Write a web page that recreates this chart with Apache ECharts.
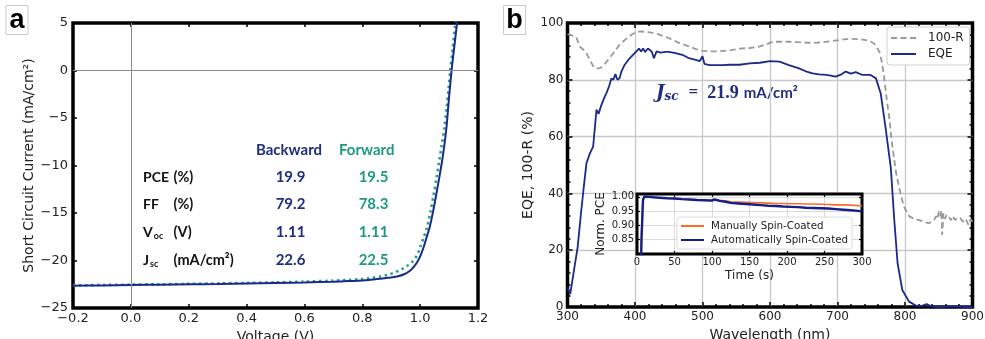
<!DOCTYPE html>
<html><head><meta charset="utf-8">
<script src="https://cdn.jsdelivr.net/npm/echarts@6/dist/echarts.min.js"></script>
<style>html,body{margin:0;padding:0;background:#fff}#c{width:985px;height:339px}</style>
</head><body><div id="c"></div>
<script>
// ---------- data ----------
const jvBackV = [-0.2,-0.1,0.0,0.1,0.2,0.3,0.4,0.5,0.6,0.7,0.75,0.8,0.83,0.86,0.89,0.92,0.945,0.966,0.98,0.993,1.003,1.012,1.022,1.033,1.045,1.056,1.066,1.076,1.084,1.091,1.100,1.108,1.113,1.120,1.128];
const jvBackJ = [-22.65,-22.62,-22.58,-22.55,-22.51,-22.47,-22.42,-22.37,-22.31,-22.23,-22.17,-22.10,-22.02,-21.92,-21.82,-21.68,-21.45,-21.05,-20.6,-20.0,-19.35,-18.6,-17.6,-16.5,-14.8,-13.0,-11.3,-9.5,-7.8,-6.0,-2.8,-0.2,1.2,3.0,5.1];
const jvFwdV = [-0.2,-0.1,0.0,0.1,0.2,0.3,0.4,0.5,0.6,0.7,0.75,0.8,0.83,0.86,0.885,0.91,0.937,0.958,0.977,0.99,1.0,1.012,1.024,1.036,1.047,1.057,1.066,1.076,1.084,1.092,1.098,1.104,1.112,1.120,1.125];
const jvFwdJ = [-22.62,-22.58,-22.54,-22.50,-22.46,-22.41,-22.36,-22.30,-22.22,-22.12,-22.05,-21.95,-21.84,-21.7,-21.52,-21.28,-20.9,-20.5,-20.0,-19.4,-18.6,-17.6,-16.5,-14.8,-13.0,-11.2,-9.5,-7.6,-6.0,-3.8,-2.0,0.0,2.2,4.6,6.0];

const eqeWl = [300,304,309,315,320,324,328,333,338,343,346,350,355,358,362,365,368,371,374,377,380,384,390,396,402,406,409,412,415,419,422,425,428,432,438,445,450,460,470,480,490,496,500,503,510,520,530,540,555,570,585,600,614,628,643,653,663,673,683,690,697,705,712,720,727,737,749,757,764,771,779,784,789,796,806,816,825,832,838,850,870,890,900];
const eqeVal = [7,4.5,12,21,33,42,50.5,54,56.5,69.5,68,71,74,75.5,78,80.5,80,82,80,80.5,83,85,87,88.5,90,91,90,91,89.8,91,90.5,89.8,87.6,90,89.6,89.8,89.8,89.4,88.8,87.6,87,86.6,88.3,85.6,85.2,85.2,85.2,85.3,85.3,85.8,86,86.6,86.4,85.2,84,83,82.3,81.9,81.7,81.5,81.1,81.8,82.9,82.2,82.7,81.7,81.7,80.5,75.2,63.5,49,31,15.4,6,1.9,0.5,0.4,1.0,0.3,0,0.2,0,0];

const reflWl = [300,304,310,313,316,319,324,328,334,339,343,347,350,355,362,370,376,382,390,396,402,410,422,435,451,465,481,490,500,515,530,545,555,570,584,595,604,615,628,640,653,665,678,690,702,712,722,732,742,749,754,758,762,766,769,773,777,780,784,787,791,798,806,814,821,828,835,840,843,846,848,850,852,854,855,857,859,862,865,868,871,874,878,882,886,890,894,897,900];
const reflVal = [96,95.8,95.3,95,93,91.5,90.5,89.4,86.5,84.5,84,84,84.4,85.5,87.6,90,92,93.4,95,96,96.9,97,96.7,96,94.6,93,91.7,90.8,90.2,90,90.1,90.5,91,91.2,91.7,92.5,93.4,93.4,93.4,93.3,93.1,93,93.2,93.6,94,94.3,94.4,94.3,94,93.5,92.8,91.5,89.9,86,81,73,66,59,52,47,42.4,35.5,32,31,30.6,30,29.5,30,30.6,32,31,33.6,32,34,25.4,33,31,32.5,31.8,30.5,32,30.6,31.5,31.2,30,31,28.9,31,30];

const stabTime = [4,6,8,10,15,20,30,40,50,60,70,80,90,96,100,103,106,110,118,125,135,145,155,165,175,185,195,205,215,225,235,245,255,265,275,285,295,300];
const stabAuto = [0.60,0.85,0.99,1.001,1.0,0.999,0.997,0.995,0.994,0.992,0.991,0.989,0.988,0.987,0.987,0.991,0.989,0.986,0.983,0.979,0.977,0.975,0.973,0.971,0.969,0.968,0.966,0.965,0.964,0.962,0.961,0.960,0.959,0.957,0.955,0.953,0.951,0.949];
const stabManual = [0.60,0.88,0.99,1.0,0.999,0.998,0.997,0.995,0.994,0.992,0.991,0.990,0.989,0.988,0.988,0.989,0.989,0.988,0.986,0.983,0.982,0.981,0.980,0.979,0.978,0.977,0.977,0.976,0.976,0.975,0.975,0.974,0.973,0.972,0.972,0.971,0.969,0.968];

const tableRowNames = ['PCE','FF','V','J'];
const tableRowSubs = ['','','oc','sc'];
const tableRowUnits = ['(%)','(%)','(V)','(mA/cm²)'];
const backwardVals = ['19.9','79.2','1.11','22.6'];
const forwardVals = ['19.5','78.3','1.11','22.5'];
const jscText = '21.9';

// ---------- styling ----------
const NAVY = '#1b2a8a', TEAL = '#25a08a', GRAY = '#9a9a9a', ORANGE = '#ff6a26', NAVY2 = '#14208a';
const TXT_NAVY = '#1f2d80', TXT_TEAL = '#1f9a80';
const F = 'DejaVu Sans';
const zip = (a, b) => a.map((v, i) => [v, b[i]]);
const minus = s => String(s).replace('-', '\u2212');

const tick = (len, w) => ({show: true, inside: true, length: len, lineStyle: {color: '#000', width: w || 1.5}});
const lbl = (size, fmt, margin) => ({show: true, fontFamily: F, fontSize: size, color: '#222', formatter: fmt, margin: margin});
const noLine = {show: false, onZero: false};

const chart = echarts.init(document.getElementById('c'), null, {renderer: 'canvas'});

const option = {
  animation: false,
  backgroundColor: '#fff',
  grid: [
    {left: 73, top: 23, width: 405, height: 285, show: true, borderColor: '#000', borderWidth: 3.5, backgroundColor: 'transparent', containLabel: false, outerBoundsMode: 'none'},
    {left: 567.5, top: 23, width: 405, height: 284, show: true, borderColor: '#000', borderWidth: 3.5, backgroundColor: 'transparent', containLabel: false, outerBoundsMode: 'none'},
    {left: 637, top: 194, width: 225, height: 60, show: true, borderColor: '#000', borderWidth: 3, backgroundColor: '#fff', z: 5, containLabel: false, outerBoundsMode: 'none'}
  ],
  xAxis: [
    {gridIndex: 0, type: 'value', min: -0.2, max: 1.2, interval: 0.2, axisLine: noLine, axisTick: tick(4),
      axisLabel: lbl(13, v => minus((Math.round(v * 10) / 10).toFixed(1)), 4), splitLine: {show: false},
      name: 'Voltage (V)', nameLocation: 'middle', nameGap: 19, nameTextStyle: {fontFamily: F, fontSize: 14, color: '#222'}},
    {gridIndex: 0, type: 'value', position: 'top', min: -0.2, max: 1.2, interval: 0.2, axisLine: noLine, axisTick: tick(4), axisLabel: {show: false}, splitLine: {show: false}},
    {gridIndex: 1, type: 'value', min: 300, max: 900, interval: 100, axisLine: noLine, axisTick: tick(5),
      minorTick: {show: true, splitNumber: 5, length: 3, lineStyle: {color: '#000', width: 1.5}},
      axisLabel: lbl(12, v => String(v), 4),
      splitLine: {show: true, showMinLine: false, showMaxLine: false, lineStyle: {color: '#c8c8c8', width: 1.3}},
      name: 'Wavelength (nm)', nameLocation: 'middle', nameGap: 20, nameTextStyle: {fontFamily: F, fontSize: 14, color: '#222'}},
    {gridIndex: 1, type: 'value', position: 'top', min: 300, max: 900, interval: 100, axisLine: noLine, axisTick: tick(5),
      minorTick: {show: true, splitNumber: 5, length: 3, lineStyle: {color: '#000', width: 1.5}}, axisLabel: {show: false}, splitLine: {show: false}},
    {gridIndex: 2, type: 'value', min: 0, max: 300, interval: 50, axisLine: noLine, axisTick: tick(3, 1.2), z: 6,
      axisLabel: lbl(10, v => String(v), 3),
      splitLine: {show: true, showMinLine: false, showMaxLine: false, lineStyle: {color: '#dadada', width: 1}},
      name: 'Time (s)', nameLocation: 'middle', nameGap: 16, nameTextStyle: {fontFamily: F, fontSize: 12, color: '#222'}},
    {gridIndex: 2, type: 'value', position: 'top', min: 0, max: 300, interval: 50, axisLine: noLine, axisTick: tick(3, 1.2), z: 6, axisLabel: {show: false}, splitLine: {show: false}}
  ],
  yAxis: [
    {gridIndex: 0, type: 'value', min: -25, max: 5, interval: 5, axisLine: noLine, axisTick: tick(4),
      axisLabel: lbl(13, v => minus(v), 5), splitLine: {show: false},
      name: 'Short Circuit Current (mA/cm²)', nameLocation: 'middle', nameGap: 31, nameTextStyle: {fontFamily: F, fontSize: 14, color: '#222'}},
    {gridIndex: 0, type: 'value', position: 'right', min: -25, max: 5, interval: 5, axisLine: noLine, axisTick: tick(4), axisLabel: {show: false}, splitLine: {show: false}},
    {gridIndex: 1, type: 'value', min: 0, max: 100, interval: 20, axisLine: noLine, axisTick: tick(5),
      minorTick: {show: true, splitNumber: 5, length: 3, lineStyle: {color: '#000', width: 1.5}},
      axisLabel: lbl(12, v => String(v), 4),
      splitLine: {show: true, showMinLine: false, showMaxLine: false, lineStyle: {color: '#c8c8c8', width: 1.3}},
      name: 'EQE, 100-R (%)', nameLocation: 'middle', nameGap: 32, nameTextStyle: {fontFamily: F, fontSize: 14, color: '#222'}},
    {gridIndex: 1, type: 'value', position: 'right', min: 0, max: 100, interval: 20, axisLine: noLine, axisTick: tick(5),
      minorTick: {show: true, splitNumber: 5, length: 3, lineStyle: {color: '#000', width: 1.5}}, axisLabel: {show: false}, splitLine: {show: false}},
    {gridIndex: 2, type: 'value', min: 0.80, max: 1.01, interval: 0.05, axisLine: noLine, axisTick: tick(3, 1.2), z: 6,
      axisLabel: lbl(10, v => { const k = v * 20; return (Math.abs(k - Math.round(k)) < 1e-6 && v > 0.82) ? v.toFixed(2) : ''; }, 3),
      splitLine: {show: true, showMinLine: false, showMaxLine: false, lineStyle: {color: '#dadada', width: 1}},
      name: 'Norm. PCE', nameLocation: 'middle', nameGap: 30, nameTextStyle: {fontFamily: F, fontSize: 12, color: '#222'}},
    {gridIndex: 2, type: 'value', position: 'right', min: 0.80, max: 1.01, interval: 0.05, axisLine: noLine, axisTick: tick(3, 1.2), z: 6, axisLabel: {show: false}, splitLine: {show: false}}
  ],
  legend: [
    {data: ['100-R', 'EQE'], orient: 'vertical', left: 887, top: 27, itemWidth: 25, itemHeight: 13, itemGap: 4,
      itemStyle: {opacity: 0},
      padding: [5, 6, 5, 3], backgroundColor: '#fff', borderColor: '#cfcfcf', borderWidth: 1, borderRadius: 3,
      textStyle: {fontFamily: F, fontSize: 12, color: '#222', padding: [0, 0, 0, 7]}, z: 8},
    {data: ['Manually Spin-Coated', 'Automatically Spin-Coated'], orient: 'vertical', left: 677, top: 217, itemWidth: 23, itemHeight: 12, itemGap: 4,
      itemStyle: {opacity: 0},
      padding: [4, 4, 4, 3], backgroundColor: '#fff', borderColor: '#dcdcdc', borderWidth: 1, borderRadius: 3,
      textStyle: {fontFamily: F, fontSize: 10.3, color: '#222', padding: [0, 0, 0, 2]}, z: 9}
  ],
  series: [
    {name: 'Forward', type: 'line', xAxisIndex: 0, yAxisIndex: 0, data: zip(jvFwdV, jvFwdJ), symbol: 'none', smooth: 0.3, z: 3,
      lineStyle: {color: TEAL, width: 2.6, type: [2.5, 3.5]}},
    {name: 'Backward', type: 'line', xAxisIndex: 0, yAxisIndex: 0, data: zip(jvBackV, jvBackJ), symbol: 'none', smooth: 0.3, z: 4,
      lineStyle: {color: NAVY, width: 2}, itemStyle: {color: NAVY},
      markLine: {silent: true, symbol: 'none', label: {show: false}, lineStyle: {color: '#8a8a8a', width: 1, type: 'solid'},
        data: [{xAxis: 0}, {yAxis: 0}]}},
    {name: '100-R', type: 'line', xAxisIndex: 2, yAxisIndex: 2, data: zip(reflWl, reflVal), symbol: 'none', z: 3,
      lineStyle: {color: GRAY, width: 1.8, type: [6, 3.5]}, itemStyle: {color: GRAY}},
    {name: 'EQE', type: 'line', xAxisIndex: 2, yAxisIndex: 2, data: zip(eqeWl, eqeVal), symbol: 'none', z: 4,
      lineStyle: {color: NAVY, width: 1.8}, itemStyle: {color: NAVY}},
    {name: 'Manually Spin-Coated', type: 'line', xAxisIndex: 4, yAxisIndex: 4, data: zip(stabTime, stabManual), symbol: 'none', z: 7,
      lineStyle: {color: ORANGE, width: 1.6}, itemStyle: {color: ORANGE}},
    {name: 'Automatically Spin-Coated', type: 'line', xAxisIndex: 4, yAxisIndex: 4, data: zip(stabTime, stabAuto), symbol: 'none', z: 7,
      lineStyle: {color: NAVY2, width: 2.4}, itemStyle: {color: NAVY2}}
  ],
  graphic: []
};

// panel letters
function panelLetter(ch, x) {
  return {type: 'group', left: x, top: 5, children: [
    {type: 'rect', shape: {x: 0, y: 0, width: 22, height: 29}, style: {fill: '#fff', stroke: '#cccccc', lineWidth: 1}},
    {type: 'text', style: {text: ch, x: 11, y: 15, align: 'center', verticalAlign: 'middle', font: 'bold 27px "Liberation Sans"', fill: '#000'}}
  ]};
}
option.graphic.push(panelLetter('a', 5.5), panelLetter('b', 503));

// table in panel a
const TF = 'Lato';
option.graphic.push({type: 'text', style: {text: 'Backward', x: 256, y: 150, verticalAlign: 'middle', font: 'bold 15px ' + TF, fill: TXT_NAVY}});
option.graphic.push({type: 'text', style: {text: 'Forward', x: 339, y: 150, verticalAlign: 'middle', font: 'bold 15px ' + TF, fill: TXT_TEAL}});
const rowY = [177, 204.5, 232.5, 260];
tableRowNames.forEach((nm, i) => {
  const sub = tableRowSubs[i];
  option.graphic.push({type: 'text', style: {
    text: sub ? '{m|' + nm + '}{s|' + sub + '}' : '{m|' + nm + '}',
    x: 143, y: rowY[i], verticalAlign: 'middle', fill: '#111',
    rich: {m: {font: 'bold 14px ' + TF, fill: '#111'}, s: {font: 'bold 9px ' + TF, fill: '#111', padding: [8, 0, 0, 1]}}}});
  option.graphic.push({type: 'text', style: {text: tableRowUnits[i], x: 173.5, y: rowY[i], verticalAlign: 'middle', font: 'bold 14.5px ' + TF, fill: '#111'}});
  option.graphic.push({type: 'text', style: {text: backwardVals[i], x: 290.5, y: rowY[i], align: 'center', verticalAlign: 'middle', font: 'bold 15px ' + TF, fill: TXT_NAVY}});
  option.graphic.push({type: 'text', style: {text: forwardVals[i], x: 373.5, y: rowY[i], align: 'center', verticalAlign: 'middle', font: 'bold 15px ' + TF, fill: TXT_TEAL}});
});

// Jsc annotation in panel b
option.graphic.push({type: 'text', style: {
  text: '{j|J}{s|sc}{e|=}{n|' + jscText + '}{u|mA/cm²}', x: 656, y: 93, verticalAlign: 'middle', fill: TXT_NAVY,
  rich: {
    j: {font: 'italic bold 18px "DejaVu Serif"', fill: TXT_NAVY},
    s: {font: 'italic bold 12px "DejaVu Serif"', fill: TXT_NAVY, padding: [8, 0, 0, 0]},
    e: {font: 'bold 17px "Liberation Serif"', fill: TXT_NAVY, padding: [0, 9, 0, 10]},
    n: {font: 'bold 18px "Liberation Serif"', fill: TXT_NAVY, padding: [0, 5, 0, 0]},
    u: {font: 'bold 15px ' + TF, fill: TXT_NAVY}
  }}});

chart.setOption(option);
</script></body></html>
